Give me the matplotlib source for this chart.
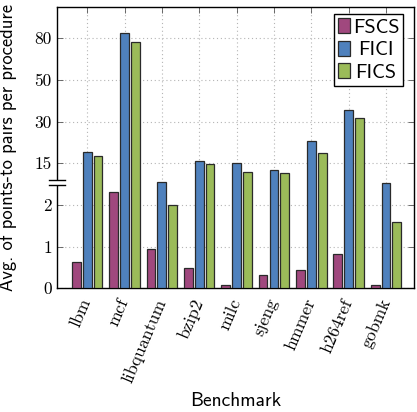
import numpy as np
import matplotlib
matplotlib.use("Agg")
import matplotlib.pyplot as plt
from matplotlib.patches import Rectangle
from matplotlib.lines import Line2D

benchmarks = ["lbm", "mcf", "libquantum", "bzip2", "milc", "sjeng", "hmmer", "h264ref", "gobmk"]
fscs = [0.62, 5.9, 0.95, 0.48, 0.08, 0.31, 0.43, 0.82, 0.07]
fici = [18.9, 84.0, 9.0, 15.9, 15.0, 12.9, 22.9, 35.7, 8.8]
fics = [17.5, 77.3, 2.0, 14.8, 12.2, 11.9, 18.8, 31.8, 1.59]
series_names = ["FSCS", "FICI", "FICS"]
colors = ["#A0487E", "#4F81BD", "#9BBB59"]
ytick_vals = [0, 1, 2, 15, 30, 50, 80]

# piecewise-linear broken axis: 0-2 linear, then one unit per tick step
knot_vals = np.array([0, 1, 2, 15, 30, 50, 80, 110], dtype=float)
knot_units = np.arange(len(knot_vals), dtype=float)


def fwd(v):
    return np.interp(v, knot_vals, knot_units)


def inv(u):
    return np.interp(u, knot_units, knot_vals)


fig = plt.figure(figsize=(4.17, 4.12), dpi=100)
ax = fig.add_axes([0.1374, 0.3002, 0.8554, 0.6821])
ax.set_yscale("function", functions=(fwd, inv))

x = np.arange(len(benchmarks))
width = 0.235
offsets = [-0.29, 0.0, 0.29]
for data, name, col, off in zip([fscs, fici, fics], series_names, colors, offsets):
    ax.bar(x + off, data, width, color=col, edgecolor="#2a2a2a", linewidth=0.9,
           label=name, zorder=3)

ax.set_xlim(-0.8, 8.75)
ax.set_ylim(0, inv(6.74))
ax.set_yticks(ytick_vals)
ax.set_yticklabels([str(v) for v in ytick_vals], fontfamily="cmr10", fontsize=12.5)
ax.set_xticks(x)
ax.set_xticklabels(benchmarks, fontfamily="cmr10", fontsize=12.8, rotation=67,
                   ha="right", va="center", rotation_mode="anchor")
ax.yaxis.set_minor_locator(matplotlib.ticker.NullLocator())
ax.tick_params(axis="both", direction="in", top=True, right=True, length=4,
               width=0.6, color="#555555")
ax.tick_params(axis="x", pad=8)
ax.tick_params(axis="y", pad=4)
ax.grid(True, linestyle=(0, (1, 2.5)), color="#b5b5b5", linewidth=0.8, zorder=0)
ax.set_axisbelow(True)
for s in ax.spines.values():
    s.set_linewidth(1.0)

ax.set_ylabel("Avg. of points-to pairs per procedure", fontfamily="cmss10",
              fontsize=13.4)
ax.yaxis.set_label_coords(-0.112, 0.5)
ax.set_xlabel("Benchmark", fontfamily="cmss10", fontsize=14)
ax.xaxis.set_label_coords(0.5, -0.37)

# axis break marker on the left spine
y_lo, y_hi = 2.47 / 6.74, 2.60 / 6.74
ax.add_patch(Rectangle((-0.02, y_lo), 0.04, y_hi - y_lo, transform=ax.transAxes,
                       facecolor="white", edgecolor="none", clip_on=False, zorder=10))
for yy in (y_lo, y_hi):
    ax.add_line(Line2D([-0.024, 0.021], [yy, yy], transform=ax.transAxes,
                       color="black", linewidth=1.0, clip_on=False, zorder=11))

leg = ax.legend(loc="upper right", bbox_to_anchor=(0.97, 0.975), frameon=True,
                fancybox=False, edgecolor="black", framealpha=1,
                prop={"family": "cmss10", "size": 14.5}, handlelength=0.6,
                handleheight=0.75, handletextpad=0.15, borderpad=0.2,
                labelspacing=0.2, borderaxespad=0)
leg.get_frame().set_linewidth(1.0)
# centre the shorter labels under the longest one
for t, dx in zip(leg.get_texts(), [0, 5, 2.5]):
    t.set_x(dx)

fig.savefig("out.png", dpi=100)
